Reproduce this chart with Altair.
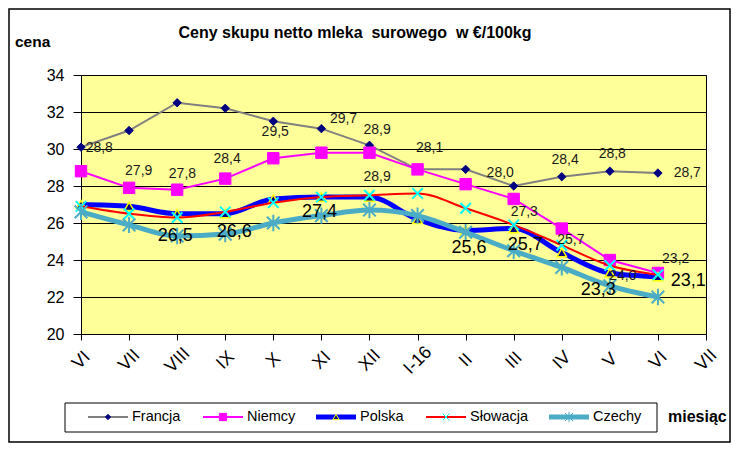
import altair as alt
import pandas as pd

# ---------------- data ----------------
months = ["VI", "VII", "VIII", "IX", "X", "XI", "XII", "I-16", "II", "III", "IV", "V", "VI", "VII"]
series_names = ["Francja", "Niemcy", "Polska", "Słowacja", "Czechy"]

francja = [30.1, 31.0, 32.5, 32.2, 31.5, 31.1, 30.2, 28.9, 28.9, 28.0, 28.5, 28.8, 28.7]
niemcy = [28.8, 27.9, 27.8, 28.4, 29.5, 29.8, 29.8, 28.9, 28.1, 27.3, 25.7, 24.0, 23.3]
polska = [27.0, 26.9, 26.5, 26.5, 27.3, 27.4, 27.4, 26.2, 25.6, 25.7, 24.4, 23.3, 23.1]
slowacja = [26.9, 26.5, 26.3, 26.6, 27.1, 27.4, 27.5, 27.6, 26.8, 25.9, 24.8, 23.7, 23.2]
czechy = [26.6, 25.9, 25.3, 25.4, 26.0, 26.4, 26.7, 26.4, 25.5, 24.5, 23.6, 22.6, 22.0]
series_values = [francja, niemcy, polska, slowacja, czechy]

# data labels as they appear on the chart (month index, price level)
small_label_text = ["28,8", "27,9", "27,8", "28,4", "29,5", "29,7", "28,9", "28,9", "28,1",
                    "28,0", "27,3", "28,4", "28,8", "28,7", "25,7", "24,0", "23,2"]
small_label_x = [0.38, 1.20, 2.11, 3.04, 4.04, 5.46, 6.16, 6.16, 7.25,
                 8.72, 9.22, 10.07, 11.05, 12.61, 10.19, 11.27, 12.37]
small_label_y = [30.06, 28.82, 28.65, 29.46, 30.92, 31.62, 31.03, 28.49, 30.06,
                 28.71, 26.62, 29.41, 29.73, 28.72, 25.09, 23.15, 24.05]

big_label_text = ["26,5", "26,6", "27,4", "25,6", "25,7", "23,3", "23,1"]
big_label_x = [1.96, 3.19, 4.96, 8.07, 9.24, 10.76, 12.63]
big_label_y = [25.32, 25.51, 26.59, 24.66, 24.82, 22.39, 22.84]

y_ticks = [20, 22, 24, 26, 28, 30, 32, 34]

# ---------------- styles ----------------
FONT = "Liberation Sans"
W, H = 625, 259
PAD = {"left": 73, "top": 67, "right": 25, "bottom": 109}

X_PATH = "M-1,-1L1,1M-1,1L1,-1"
AST_PATH = "M-1,-1L1,1M-1,1L1,-1M0,-1.3L0,1.3"

styles = {
    "Francja": dict(line="#808080", width=2, interp="linear",
                    shape="diamond", fill="#000080", stroke="#000080", size=70, filled=True, sw=1),
    "Niemcy": dict(line="#FF00FF", width=2, interp="linear",
                   shape="square", fill="#FF00FF", stroke="#FF00FF", size=130, filled=True, sw=1),
    "Polska": dict(line="#0000FF", width=5, interp="monotone",
                   shape="triangle-up", fill="#000080", stroke="#FFFF00", size=90, filled=True, sw=1.5),
    "Słowacja": dict(line="#FF0000", width=2, interp="monotone",
                     shape=X_PATH, fill="none", stroke="#00FFFF", size=110, filled=False, sw=2),
    "Czechy": dict(line="#4BACC6", width=5, interp="monotone",
                   shape=AST_PATH, fill="none", stroke="#4BACC6", size=160, filled=False, sw=2),
}

label_expr = "[" + ",".join("'%s'" % m for m in months) + "][datum.value]"

x_enc = alt.X(
    "idx:Q",
    scale=alt.Scale(domain=[0, len(months) - 1], nice=False, zero=False),
    axis=alt.Axis(
        title=None, values=list(range(len(months))), labelExpr=label_expr, grid=False,
        labelAngle=-45, labelAlign="center", labelBaseline="middle", labelPadding=20,
        labelFontSize=18, labelFont=FONT, labelColor="black", tickColor="black",
        tickSize=6, domainColor="black", labelOverlap=False, labelFlush=False,
    ),
)
y_enc = alt.Y(
    "value:Q",
    scale=alt.Scale(domain=[20, 34], nice=False, zero=False),
    axis=alt.Axis(
        title=None, values=y_ticks, grid=True, gridColor="black", gridWidth=1, gridOpacity=1,
        labelFontSize=16, labelFont=FONT, labelColor="black", tickColor="black",
        tickSize=8, labelPadding=9, domainColor="black",
    ),
)

layers = []
for name, vals in zip(series_names, series_values):
    st = styles[name]
    df = pd.DataFrame({"idx": list(range(len(vals))), "value": vals, "series": name})
    base = alt.Chart(df)
    layers.append(base.mark_line(color=st["line"], strokeWidth=st["width"],
                                 interpolate=st["interp"]).encode(x=x_enc, y=y_enc))
    layers.append(base.mark_point(shape=st["shape"], filled=st["filled"], fill=st["fill"],
                                  stroke=st["stroke"], strokeWidth=st["sw"], size=st["size"],
                                  opacity=1).encode(x=x_enc, y=y_enc))

small_df = pd.DataFrame({"idx": small_label_x, "value": small_label_y, "txt": small_label_text})
big_df = pd.DataFrame({"idx": big_label_x, "value": big_label_y, "txt": big_label_text})
layers.append(alt.Chart(small_df).mark_text(font=FONT, fontSize=14, color="#1a1a1a",
                                            baseline="middle", align="center")
              .encode(x=x_enc, y=y_enc, text="txt:N"))
layers.append(alt.Chart(big_df).mark_text(font=FONT, fontSize=18, color="black",
                                          baseline="middle", align="center")
              .encode(x=x_enc, y=y_enc, text="txt:N"))

one = pd.DataFrame({"a": [0]})


def deco_text(txt, x, y, size, bold=False, align="left"):
    return alt.Chart(one).mark_text(font=FONT, fontSize=size, fontWeight="bold" if bold else "normal",
                                    color="black", align=align, baseline="middle").encode(
        x=alt.value(x), y=alt.value(y), text=alt.value(txt))


# outer frame, title, axis captions
layers.append(alt.Chart(one).mark_rect(fill="white", fillOpacity=0, stroke="black", strokeWidth=1.5).encode(
    x=alt.value(-72), x2=alt.value(W + PAD["right"] - 1), y=alt.value(-66), y2=alt.value(H + PAD["bottom"] - 1)))
layers.append(deco_text("Ceny skupu netto mleka\u00a0 surowego \u00a0w €/100kg", 274, -42, 16, True, "center"))
layers.append(deco_text("cena", -66, -33, 15.5, True))
layers.append(deco_text("miesiąc", 587, 342, 16, True))

# legend
leg_x = [7, 122, 235, 345, 468]
leg_y = 342
layers.append(alt.Chart(one).mark_rect(fill="white", stroke="black", strokeWidth=1).encode(
    x=alt.value(-16), x2=alt.value(576), y=alt.value(328), y2=alt.value(357)))
for name, lx in zip(series_names, leg_x):
    st = styles[name]
    layers.append(alt.Chart(one).mark_rule(color=st["line"], strokeWidth=st["width"]).encode(
        x=alt.value(lx), x2=alt.value(lx + 40), y=alt.value(leg_y)))
    layers.append(alt.Chart(one).mark_point(shape=st["shape"], filled=st["filled"], fill=st["fill"],
                                            stroke=st["stroke"], strokeWidth=1, size=st["size"] * 0.4,
                                            opacity=1).encode(x=alt.value(lx + 20), y=alt.value(leg_y)))
    layers.append(deco_text(name, lx + 44, leg_y, 14.5))

chart = alt.layer(*layers).properties(
    width=W, height=H, padding=PAD, autosize=alt.AutoSizeParams(type="none"),
    background="white",
).configure_view(fill="#FFFF99", stroke="black", strokeWidth=1)

chart.save("out.html", embed_options={"renderer": "svg", "actions": False})
